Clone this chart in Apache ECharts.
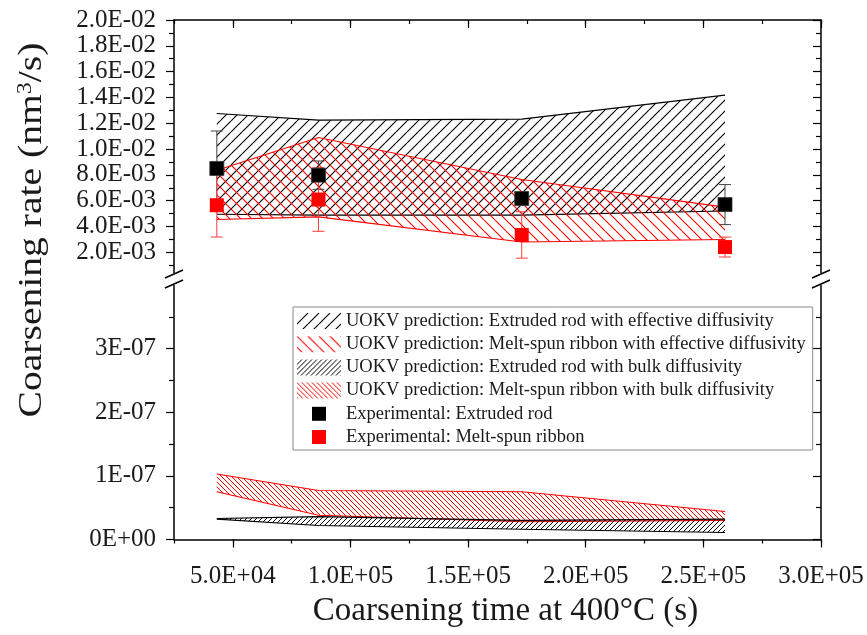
<!DOCTYPE html>
<html>
<head>
<meta charset="utf-8">
<script src="https://cdn.jsdelivr.net/npm/echarts@6/dist/echarts.min.js"></script>
<style>
  html, body { margin: 0; padding: 0; background: #fff; }
  #chart { width: 867px; height: 635px; }
</style>
</head>
<body>
<div id="chart"></div>
<script>
// Coarsening times (s): 12 h, 24 h, 48 h, 72 h at 400 °C
const times = [43200, 86400, 172800, 259200];

// UOKV prediction bands (nm^3/s), effective diffusivity
const rodEffHigh = [12.76e-3, 12.24e-3, 12.32e-3, 14.18e-3];
const rodEffLow  = [4.95e-3, 4.88e-3, 4.88e-3, 5.20e-3];
const ribEffHigh = [8.36e-3, 10.90e-3, 7.64e-3, 5.50e-3];
const ribEffLow  = [4.55e-3, 4.75e-3, 2.80e-3, 3.00e-3];

// UOKV prediction bands (nm^3/s), bulk diffusivity
const rodBulkHigh = [0.33e-7, 0.36e-7, 0.30e-7, 0.32e-7];
const rodBulkLow  = [0.32e-7, 0.22e-7, 0.16e-7, 0.11e-7];
const ribBulkHigh = [1.03e-7, 0.77e-7, 0.75e-7, 0.44e-7];
const ribBulkLow  = [0.75e-7, 0.38e-7, 0.28e-7, 0.30e-7];

// Measured coarsening rates with error
const rodRate = [8.50e-3, 7.98e-3, 6.17e-3, 5.70e-3];
const rodErr  = [2.90e-3, 1.10e-3, 0.40e-3, 1.55e-3];
const ribRate = [5.65e-3, 6.09e-3, 3.35e-3, 2.41e-3];
const ribErr  = [2.46e-3, 2.46e-3, 1.80e-3, 0.77e-3];

// Tick values
const xMajor = [50000, 100000, 150000, 200000, 250000, 300000];
const upperMajor = [0.002, 0.004, 0.006, 0.008, 0.010, 0.012, 0.014, 0.016, 0.018, 0.020];
const upperMinor = [0.001, 0.003, 0.005, 0.007, 0.009, 0.011, 0.013, 0.015, 0.017, 0.019];
const lowerMajor = [0, 1e-7, 2e-7, 3e-7];
const lowerMinor = [0.5e-7, 1.5e-7, 2.5e-7, 3.5e-7];

const LEG_ROD_EFF = 'UOKV prediction: Extruded rod with effective diffusivity';
const LEG_RIB_EFF = 'UOKV prediction: Melt-spun ribbon with effective diffusivity';
const LEG_ROD_BULK = 'UOKV prediction: Extruded rod with bulk diffusivity';
const LEG_RIB_BULK = 'UOKV prediction: Melt-spun ribbon with bulk diffusivity';
const LEG_ROD_EXP = 'Experimental: Extruded rod';
const LEG_RIB_EXP = 'Experimental: Melt-spun ribbon';

// ---- layout ----
const W = 867, H = 635;
const PLOT_L = 174, PLOT_R = 821;
const UP_T = 20, UP_B = 273;
const LO_T = 285, LO_B = 539.5;
const FONT = 'Liberation Serif';
const RED = '#ff0000';
const INK = '#1a1a1a';

// diagonal hatch fill; dir > 0 draws "/", dir < 0 draws "\"
function hatch(color, step, dir, lw) {
  const c = document.createElement('canvas');
  c.width = step; c.height = step;
  const g = c.getContext('2d');
  g.strokeStyle = color;
  g.lineWidth = lw;
  g.beginPath();
  for (let k = -1; k <= 1; k++) {
    if (dir > 0) { g.moveTo(k * step, step); g.lineTo(k * step + step, 0); }
    else { g.moveTo(k * step, 0); g.lineTo(k * step + step, step); }
  }
  g.stroke();
  return { image: c, repeat: 'repeat' };
}
const patRodEff = hatch('#000', 11, 1, 1.1);
const patRibEff = hatch(RED, 11, -1, 1.1);
const patRodBulk = hatch('#000', 5, 1, 1);
const patRibBulk = hatch(RED, 5, -1, 1);

function sciUpper(v) {
  const e = Math.floor(Math.log10(v) + 1e-9);
  const m = v / Math.pow(10, e);
  const es = (e < 0 ? '-' : '+') + String(Math.abs(e)).padStart(2, '0');
  return m.toFixed(1) + 'E' + es;
}
function sciLower(v) {
  if (v === 0) return '0E+00';
  const e = Math.floor(Math.log10(v) + 1e-9);
  const m = Math.round(v / Math.pow(10, e));
  return m + 'E' + (e < 0 ? '-' : '+') + String(Math.abs(e)).padStart(2, '0');
}

const lineAx = { show: true, onZero: false, lineStyle: { color: '#000', width: 1.5 } };
const noLine = { show: false, onZero: false };
const labelStyle = { fontFamily: FONT, fontSize: 25, color: INK };

function tick(inside, len, values) {
  const t = { show: true, inside: inside, length: len, lineStyle: { color: '#000', width: 1.2 } };
  if (values) t.customValues = values;
  return t;
}

const xRange = { type: 'value', min: 25000, max: 300000, splitLine: { show: false } };

const xAxes = [
  // upper panel frame (top edge)
  Object.assign({}, xRange, { gridIndex: 0, position: 'top', axisLine: lineAx,
    axisTick: tick(true, 8, xMajor), axisLabel: { show: false } }),
  Object.assign({}, xRange, { gridIndex: 0, position: 'top', interval: 25000, axisLine: noLine,
    axisTick: tick(true, 4), axisLabel: { show: false } }),
  // lower panel bottom axis with labels
  Object.assign({}, xRange, { gridIndex: 1, position: 'bottom', axisLine: lineAx,
    axisTick: tick(false, 8, xMajor),
    axisLabel: Object.assign({ show: true, customValues: xMajor, margin: 24,
      formatter: v => sciUpper(v) }, labelStyle),
    name: 'Coarsening time at 400\u00B0C (s)', nameLocation: 'middle', nameGap: 55,
    nameTextStyle: { fontFamily: FONT, fontSize: 33, color: INK, padding: [0, 0, 0, 16] } }),
  Object.assign({}, xRange, { gridIndex: 1, position: 'bottom', interval: 25000, axisLine: noLine,
    axisTick: tick(false, 4), axisLabel: { show: false } })
];

const upRange = { type: 'value', min: 0.0004, max: 0.02, splitLine: { show: false } };
const loRange = { type: 'value', min: 0, max: 4e-7, splitLine: { show: false } };

const yAxes = [
  Object.assign({}, upRange, { gridIndex: 0, position: 'left', axisLine: lineAx,
    axisTick: tick(false, 8, upperMajor),
    axisLabel: Object.assign({ show: true, customValues: upperMajor, margin: 18,
      formatter: v => sciUpper(v) }, labelStyle) }),
  Object.assign({}, upRange, { gridIndex: 0, position: 'left', axisLine: noLine,
    axisTick: tick(false, 5, upperMinor), axisLabel: { show: false } }),
  Object.assign({}, upRange, { gridIndex: 0, position: 'right', axisLine: lineAx,
    axisTick: tick(true, 8, upperMajor), axisLabel: { show: false } }),
  Object.assign({}, upRange, { gridIndex: 0, position: 'right', axisLine: noLine,
    axisTick: tick(true, 5, upperMinor), axisLabel: { show: false } }),

  Object.assign({}, loRange, { gridIndex: 1, position: 'left', axisLine: lineAx,
    axisTick: tick(false, 8, lowerMajor),
    axisLabel: Object.assign({ show: true, customValues: lowerMajor, margin: 18,
      formatter: v => sciLower(v) }, labelStyle) }),
  Object.assign({}, loRange, { gridIndex: 1, position: 'left', axisLine: noLine,
    axisTick: tick(false, 5, lowerMinor), axisLabel: { show: false } }),
  Object.assign({}, loRange, { gridIndex: 1, position: 'right', axisLine: lineAx,
    axisTick: tick(true, 8, lowerMajor), axisLabel: { show: false } }),
  Object.assign({}, loRange, { gridIndex: 1, position: 'right', axisLine: noLine,
    axisTick: tick(true, 5, lowerMinor), axisLabel: { show: false } })
];

function pairs(ys) { return times.map((t, i) => [t, ys[i]]); }

// hatched band between a lower and an upper boundary, outlined on both edges
function band(name, hi, lo, color, pattern, xi, yi, z) {
  return {
    name: name, type: 'custom', xAxisIndex: xi, yAxisIndex: yi, z: z, silent: true, clip: true,
    itemStyle: { color: color },
    data: times.map((t, i) => [t, lo[i], hi[i]]),
    encode: { x: 0, y: [1, 2] },
    renderItem: function (params, api) {
      if (params.dataIndexInside !== 0) return null;
      const n = params.dataInsideLength;
      const upper = [], lower = [];
      for (let j = 0; j < n; j++) {
        const x = api.value(0, j);
        lower.push(api.coord([x, api.value(1, j)]));
        upper.push(api.coord([x, api.value(2, j)]));
      }
      return { type: 'group', children: [
        { type: 'polygon', shape: { points: upper.concat(lower.slice().reverse()) },
          style: { fill: pattern, stroke: null } },
        { type: 'polyline', shape: { points: upper }, style: { stroke: color, lineWidth: 1.1, fill: null } },
        { type: 'polyline', shape: { points: lower }, style: { stroke: color, lineWidth: 1.1, fill: null } }
      ] };
    }
  };
}

function errorBars(name, rates, errs, color, xi, yi, z) {
  return {
    name: name, type: 'custom', xAxisIndex: xi, yAxisIndex: yi, z: z, silent: true,
    data: times.map((t, i) => [t, rates[i], errs[i]]),
    renderItem: function (params, api) {
      const x = api.value(0), y = api.value(1), e = api.value(2);
      const top = api.coord([x, y + e]);
      const bot = api.coord([x, y - e]);
      const cw = 6;
      const st = { stroke: color, lineWidth: 1 };
      return { type: 'group', children: [
        { type: 'line', shape: { x1: top[0], y1: top[1], x2: bot[0], y2: bot[1] }, style: st },
        { type: 'line', shape: { x1: top[0] - cw, y1: top[1], x2: top[0] + cw, y2: top[1] }, style: st },
        { type: 'line', shape: { x1: bot[0] - cw, y1: bot[1], x2: bot[0] + cw, y2: bot[1] }, style: st }
      ] };
    }
  };
}

const series = [
  band(LEG_ROD_EFF, rodEffHigh, rodEffLow, '#000', patRodEff, 0, 0, 2),
  band(LEG_RIB_EFF, ribEffHigh, ribEffLow, RED, patRibEff, 0, 0, 3),
  errorBars('rodErr', rodRate, rodErr, '#444', 0, 0, 4),
  errorBars('ribErr', ribRate, ribErr, '#ff3b3b', 0, 0, 4),
  { name: LEG_ROD_EXP, type: 'scatter', xAxisIndex: 0, yAxisIndex: 0, z: 5, silent: true,
    data: pairs(rodRate), symbol: 'rect', symbolSize: 14,
    itemStyle: { color: '#000', borderColor: '#333', borderWidth: 0.8, opacity: 1 } },
  { name: LEG_RIB_EXP, type: 'scatter', xAxisIndex: 0, yAxisIndex: 0, z: 6, silent: true,
    data: pairs(ribRate), symbol: 'rect', symbolSize: 14,
    itemStyle: { color: RED, opacity: 1 } },
  band(LEG_RIB_BULK, ribBulkHigh, ribBulkLow, RED, patRibBulk, 2, 4, 2),
  band(LEG_ROD_BULK, rodBulkHigh, rodBulkLow, '#000', patRodBulk, 2, 4, 3)
];

// small square centred in a 44x16 legend cell
const squareIcon = 'path://M0,0M44,16M15,1L29,1L29,15L15,15Z';

const legend = {
  orient: 'vertical', left: 293, top: 307,
  itemWidth: 44, itemHeight: 16, itemGap: 4.2,
  padding: [4.5, 7, 3.5, 4],
  borderColor: '#8a8a8a', borderWidth: 1, backgroundColor: '#fff',
  textStyle: { fontFamily: FONT, fontSize: 18.5, lineHeight: 18.5, color: INK },
  selectedMode: false,
  data: [
    { name: LEG_ROD_EFF, icon: 'rect', itemStyle: { color: patRodEff, borderWidth: 0 } },
    { name: LEG_RIB_EFF, icon: 'rect', itemStyle: { color: patRibEff, borderWidth: 0 } },
    { name: LEG_ROD_BULK, icon: 'rect', itemStyle: { color: patRodBulk, borderWidth: 0 } },
    { name: LEG_RIB_BULK, icon: 'rect', itemStyle: { color: patRibBulk, borderWidth: 0 } },
    { name: LEG_ROD_EXP, icon: squareIcon, itemStyle: { color: '#000', borderWidth: 0 } },
    { name: LEG_RIB_EXP, icon: squareIcon, itemStyle: { color: RED, borderWidth: 0 } }
  ]
};

// axis-break marks ("//") on both vertical edges
function breakMarks(xc) {
  const mk = (y) => ({ type: 'line', silent: true, z: 100,
    shape: { x1: xc - 9, y1: y + 4, x2: xc + 9, y2: y - 4 },
    style: { stroke: '#000', lineWidth: 1.4 } });
  return [
    { type: 'rect', silent: true, z: 99, shape: { x: xc - 4, y: UP_B, width: 8, height: LO_T - UP_B },
      style: { fill: '#fff' } },
    mk(UP_B + 1), mk(LO_T - 1)
  ];
}

const option = {
  animation: false,
  backgroundColor: '#fff',
  grid: [
    { left: PLOT_L, right: W - PLOT_R, top: UP_T, height: UP_B - UP_T, outerBoundsMode: 'none' },
    { left: PLOT_L, right: W - PLOT_R, top: LO_T, height: LO_B - LO_T, outerBoundsMode: 'none' }
  ],
  xAxis: xAxes,
  yAxis: yAxes,
  legend: legend,
  series: series,
  graphic: [].concat(breakMarks(PLOT_L), breakMarks(PLOT_R), [
    // vertical axis title, stretched along its length
    { type: 'text', x: 32, y: 230, rotation: Math.PI / 2, scaleX: 1.2, silent: true,
      style: { text: 'Coarsening rate (nm{sup|3}/s)', fontFamily: FONT, fontSize: 33,
        fill: INK, align: 'center', verticalAlign: 'middle',
        rich: { sup: { fontFamily: FONT, fontSize: 20, fill: INK, verticalAlign: 'top', lineHeight: 33 } } } }
  ])
};

const chart = echarts.init(document.getElementById('chart'), null, { renderer: 'canvas', width: W, height: H });
chart.setOption(option);
</script>
</body>
</html>
